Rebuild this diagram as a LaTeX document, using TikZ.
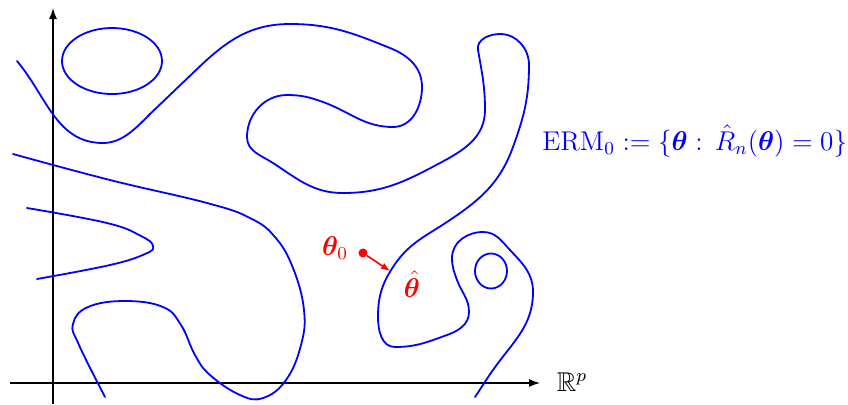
\documentclass[tikz,border=0pt]{standalone}
\usepackage{amsmath,amssymb,bm}
\usetikzlibrary{arrows.meta}
\newcommand{\bigtxt}[1]{\scalebox{1.13}{#1}}
\begin{document}
\begin{tikzpicture}[x=0.5pt,y=0.5pt,
  curve/.style={blue, line width=0.9pt, line join=round, line cap=round},
  axis/.style={black, line width=0.65pt, -{Latex[length=5.5pt,width=4pt]}},
  lbl/.style={inner sep=0pt, font=\fontsize{12}{14.4}\selectfont}]
\useasboundingbox (0,0) rectangle (848,-404);
% axes
\coordinate (xs) at (10,-383);
\coordinate (xe) at (540,-383);
\coordinate (ys) at (53,-404);
\coordinate (ye) at (53,-8);
\draw[axis] (xs) -- (xe);
\draw[axis] (ys) -- (ye);
% closed loops
\draw[curve] (112,-61) ellipse [x radius=50, y radius=33];
\draw[curve] (491,-271) ellipse [x radius=16, y radius=17.5];
% long curve
\draw[curve] (17,-61) to[out=-50,in=180] (103,-143)
 to[out=0,in=225,looseness=0.9] (150,-114)
 -- (195,-71)
 to[out=44,in=180] (290,-24)
 to[out=0,in=158] (390,-48)
 to[out=-22,in=90] (422,-87)
 to[out=-90,in=0] (393,-127)
 to[out=180,in=-20] (323,-102)
 to[out=160,in=0] (287,-95)
 to[out=180,in=90] (247,-137)
 to[out=-90,in=147] (273,-163)
 to[out=-33,in=180] (343,-193)
 to[out=0,in=208] (440,-163)
 to[out=28,in=-90] (485,-110)
 to[out=90,in=-80] (478,-50)
 to[out=100,in=180] (500,-34)
 to[out=0,in=90] (529,-65)
 to[out=-90,in=70] (513,-147)
 to[out=-110,in=34] (450,-220)
 to[out=-146,in=57] (393,-267)
 to[out=-123,in=90] (378,-317)
 to[out=-90,in=180] (395,-347)
 to[out=0,in=200] (447,-335)
 to[out=20,in=-90] (469,-312)
 to[out=90,in=-70] (457,-280)
 to[out=110,in=-90] (452,-258)
 to[out=90,in=180] (483,-232)
 to[out=0,in=133] (510,-250)
 to[out=-47,in=90] (533,-292)
 to[out=-90,in=55] (493,-370)
 to[out=-125,in=56] (475,-397);
% lower left curve
\draw[curve] plot[smooth, tension=0.7] coordinates {
 (13,-154) (110,-180) (207,-203) (250,-218) (275,-237) (293,-268) (304,-310) (301,-345)
 (286,-380) (263,-398) (240,-395) (210,-375) (195,-355) (181,-325) (163,-307) (125,-301)
 (88,-307) (73,-324) (79,-345) (105,-397)};
% V-shaped curve
\draw[curve] plot[smooth, tension=0.7] coordinates {
 (27,-208) (107,-223) (141,-236) (153,-246) (145,-254) (110,-265) (37,-279)};
% red parts
\node[circle, fill=red, inner sep=0pt, minimum size=4.5pt] (t0) at (363,-253) {};
\coordinate (th) at (390,-271);
\draw[red, line width=0.8pt, -{Latex[length=4.5pt,width=3.5pt]}] (t0) -- (th);
\node[lbl, text=red] (t0lbl) at (335,-248) {\bigtxt{$\bm{\theta}_0$}};
\node[lbl, text=red] (thlbl) at (412,-284) {\bigtxt{$\hat{\bm{\theta}}$}};
% labels
\node[lbl] (rp) at (572,-382) {\bigtxt{$\mathbb{R}^p$}};
\node[lbl, text=blue, anchor=west] (erm) at (542,-141) {\bigtxt{$\mathrm{ERM}_0 := \{\bm{\theta} :\, \hat{R}_n(\bm{\theta}) = 0\}$}};
\end{tikzpicture}
\end{document}
